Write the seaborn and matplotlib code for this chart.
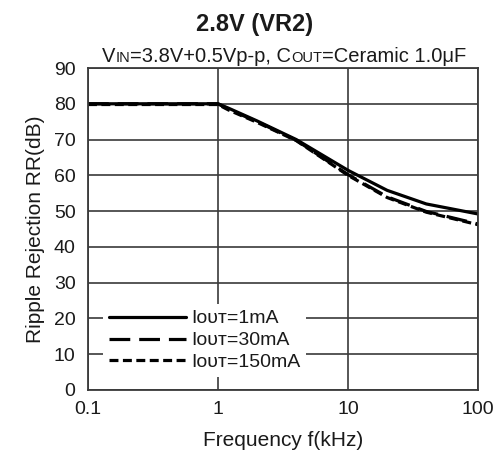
import numpy as np
import pandas as pd
import seaborn as sns
import matplotlib.pyplot as plt
from matplotlib.offsetbox import TextArea, HPacker, AnnotationBbox

# --- data ---
freq_khz = [0.1, 0.2, 0.5, 0.8, 1.0, 1.2, 2.0, 4.0, 10.0, 20.0, 40.0, 100.0]
rr_1ma = [80, 80, 80, 80, 80, 78.8, 75.2, 70.0, 61.4, 55.8, 52.0, 49.2]
rr_30ma = [80, 80, 80, 80, 80, 78.5, 75.0, 69.8, 60.2, 54.0, 49.9, 46.4]
rr_150ma = [79.8, 79.8, 79.8, 79.8, 79.8, 78.3, 74.8, 69.7, 60.0, 53.8, 49.7, 46.2]
labels = ["Iᴏᴜᴛ=1mA", "Iᴏᴜᴛ=30mA", "Iᴏᴜᴛ=150mA"]

x_ticks = [0.1, 1, 10, 100]
x_ticklabels = ["0.1", "1", "10", "100"]
y_ticks = list(range(0, 91, 10))

df = pd.concat([
    pd.DataFrame({"f": freq_khz, "rr": rr_1ma, "serie": labels[0]}),
    pd.DataFrame({"f": freq_khz, "rr": rr_30ma, "serie": labels[1]}),
    pd.DataFrame({"f": freq_khz, "rr": rr_150ma, "serie": labels[2]}),
])

sns.set_theme(style="white")
plt.rcParams["font.family"] = ["Liberation Sans", "DejaVu Sans"]

fig = plt.figure(figsize=(5.02, 4.58), dpi=100)
ax = fig.add_axes([0.1753, 0.1485, 0.777, 0.703])

sns.lineplot(data=df, x="f", y="rr", hue="serie", style="serie",
             palette=["black"] * 3,
             dashes={labels[0]: "", labels[1]: (6.5, 2.8), labels[2]: (2.8, 1.4)},
             linewidth=2.3, estimator=None, sort=True, ax=ax)

ax.set_xscale("log")
ax.set_xlim(0.1, 100)
ax.set_ylim(0, 90)
ax.set_xticks(x_ticks)
ax.set_xticklabels(x_ticklabels)
ax.xaxis.set_minor_locator(plt.NullLocator())
ax.set_yticks(y_ticks)
ax.tick_params(length=0, labelsize=14, colors="#1a1a1a")
ax.tick_params(axis="x", pad=8)
ax.tick_params(axis="y", pad=9)
ax.grid(True, color="#3a3a3a", linewidth=1.2)
for s in ax.spines.values():
    s.set_color("#3a3a3a")
    s.set_linewidth(1.3)

ax.set_xlabel("Frequency f(kHz)", fontsize=15, color="#1a1a1a", labelpad=9)
ax.set_ylabel("Ripple Rejection RR(dB)", fontsize=15, color="#1a1a1a", labelpad=6)

leg = ax.legend(loc="lower left", bbox_to_anchor=(0.038, 0.04), borderaxespad=0,
                frameon=True, fontsize=14, handlelength=4.0, handletextpad=0.25,
                labelspacing=0.22, borderpad=0.3)
leg.get_frame().set_facecolor("white")
leg.get_frame().set_edgecolor("none")
leg.get_frame().set_alpha(1)
for t in leg.get_texts():
    t.set_color("#1a1a1a")

# title
fig.text(0.508, 0.933, "2.8V (VR2)", ha="center", va="baseline",
         fontsize=17, fontweight="bold", color="#1a1a1a")

# subtitle with small-caps subscripts
big = dict(fontsize=14.5, color="#1a1a1a")
small = dict(fontsize=10.5, color="#1a1a1a")
parts = [("V", big), ("IN", small), ("=3.8V+0.5Vp-p, C", big),
         ("OUT", small), ("=Ceramic 1.0μF", big)]
box = HPacker(children=[TextArea(t, textprops=p) for t, p in parts],
              align="baseline", pad=0, sep=0)
ab = AnnotationBbox(box, (0.503, 1.005), xycoords="axes fraction",
                    box_alignment=(0.5, 0), frameon=False, pad=0)
ax.add_artist(ab)

fig.savefig("out.png", dpi=100)
